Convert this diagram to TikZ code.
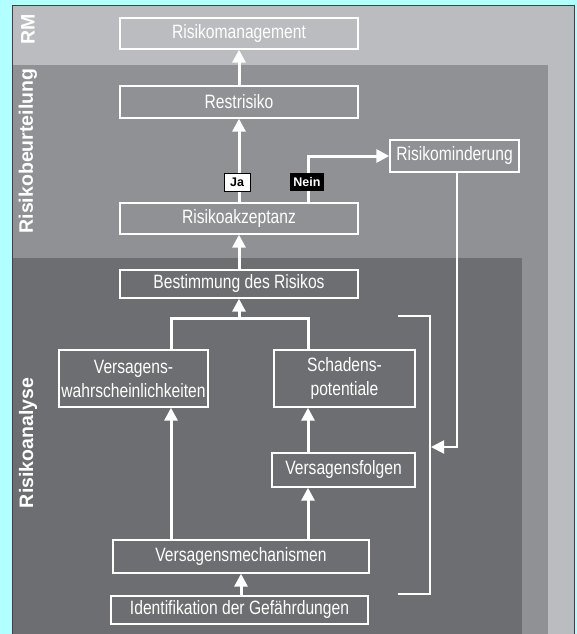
\documentclass[tikz,border=0pt]{standalone}
\usepackage{fontspec}
\setmainfont{Liberation Sans}[FakeStretch=0.81]
\newfontfamily\sidefont{Liberation Sans}
\usetikzlibrary{arrows.meta}
\definecolor{bgcyan}{RGB}{178,255,255}
\definecolor{rmgray}{RGB}{187,188,192}
\definecolor{rbgray}{RGB}{144,145,149}
\definecolor{ragray}{RGB}{109,110,113}
\definecolor{edgegray}{RGB}{64,64,66}
\tikzset{
  box/.style={draw=white, line width=1.4pt, text=white, inner sep=0pt, align=center,
    font=\fontsize{19.3}{24}\selectfont},
  flow/.style={white, line width=3pt, -{Triangle[width=13pt,length=13pt]}},
  joint/.style={white, line width=3pt},
  side/.style={text=white, rotate=90, font=\sidefont\bfseries\fontsize{19.5}{20}\selectfont},
  tag/.style={inner sep=0pt, minimum height=18pt, line width=1pt,
    font=\sidefont\bfseries\fontsize{12.5}{13}\selectfont}
}

\begin{document}
\begin{tikzpicture}[x=1pt, y=-1pt]
    \useasboundingbox (0,0) rectangle (577,634);

    % Background areas
    \fill[bgcyan] (0,0) rectangle (577,634);
    \filldraw[fill=rmgray, draw=edgegray, line width=1pt] (12,6) rectangle (574,650);
    \fill[rbgray] (12.5,65) rectangle (548,634);
    \fill[ragray] (12.5,258) rectangle (522,634);

    % Area labels
    \node[side] (lrm) at (28,29) {RM};
    \node[side] (lrb) at (28,151) {Risikobeurteilung};
    \node[side] (lra) at (28,443) {Risikoanalyse};

    % Boxes
    \node[box, minimum width=238pt, minimum height=31pt] (rm) at (239,33.5) {Risikomanagement};
    \node[box, minimum width=238pt, minimum height=32pt] (rest) at (239,102) {Restrisiko};
    \node[box, minimum width=129pt, minimum height=32pt] (mind) at (454.5,156) {Risikominderung};
    \node[box, minimum width=238pt, minimum height=31pt] (akz) at (239,218.5) {Risikoakzeptanz};
    \node[box, minimum width=238pt, minimum height=28pt] (best) at (239,284) {Bestimmung des Risikos};
    \node[box, minimum width=149pt, minimum height=57pt] (vwk) at (133.5,378.5) {Versagens-\\wahrscheinlichkeiten};
    \node[box, minimum width=141pt, minimum height=57pt] (sp) at (344.5,378.5) {Schadens-\\potentiale};
    \node[box, minimum width=143pt, minimum height=34pt] (vf) at (343.5,470) {Versagensfolgen};
    \node[box, minimum width=256pt, minimum height=33pt] (vm) at (241,556.5) {Versagensmechanismen};
    \node[box, minimum width=257pt, minimum height=28pt] (idg) at (239.5,610) {Identifikation der Gefährdungen};

    % Points for the bends
    \coordinate (jn) at (239,318);
    \coordinate (back) at (431,447);

    % Arrows up
    \draw[flow] (rest.north) -- (rm.south);
    \draw[flow] (akz.north) -- (rest.south);
    \draw[flow] ([xshift=69pt]akz.north) |- (mind.west);
    \draw[flow] (best.north) -- (akz.south);
    \draw[joint] ([xshift=37.5pt]vwk.north) |- (jn) -| ([xshift=-36.5pt]sp.north);
    \draw[flow] (jn) -- (best.south);
    \draw[flow] ([xshift=-70pt]vm.north) -- ([xshift=37.5pt]vwk.south);
    \draw[flow] ([xshift=-35.5pt]vf.north) -- ([xshift=-36.5pt]sp.south);
    \draw[flow] ([xshift=67pt]vm.north) -- ([xshift=-35.5pt]vf.south);
    \draw[flow] (idg.north -| vm.north) -- (vm.south);

    % Feedback line and bracket
    \draw[white, line width=2pt, -{Triangle[width=13pt,length=13pt]}] ([xshift=2.5pt]mind.south) |- (back);
    \draw[white, line width=1.3pt] (398,316) -- (430,316) -- (430,594) -- (398,594);

    % Decision tags
    \node[tag, fill=white, draw=black, text=black, minimum width=26pt] (ja) at (237,182) {Ja};
    \node[tag, fill=black, text=white, minimum width=34pt] (nein) at (307,182) {Nein};
\end{tikzpicture}
\end{document}
